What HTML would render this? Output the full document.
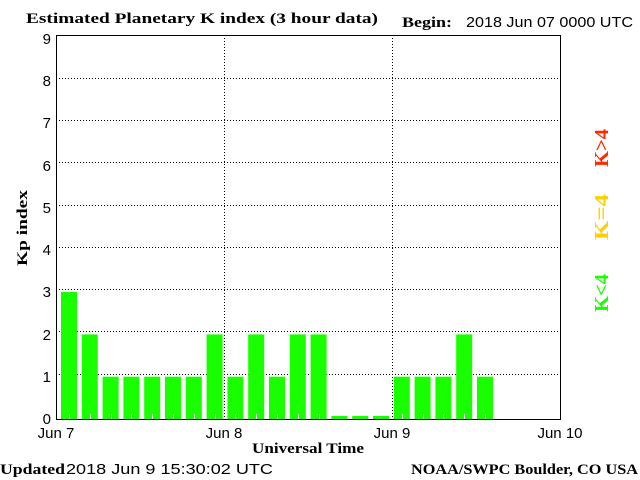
<!DOCTYPE html>
<html><head><style>body{margin:0;background:#fff}svg{display:block}</style></head><body>
<svg width="640" height="480" xmlns="http://www.w3.org/2000/svg">
<rect width="640" height="480" fill="#fff"/>
<g font-family="Liberation Serif, serif" font-weight="bold" font-size="15" fill="#000">
<text x="26" y="23" textLength="352" lengthAdjust="spacingAndGlyphs">Estimated Planetary K index (3 hour data)</text>
<text x="402" y="27" textLength="50" lengthAdjust="spacingAndGlyphs">Begin:</text>
<text x="0" y="474" textLength="65" lengthAdjust="spacingAndGlyphs">Updated</text>
<text x="411" y="474" textLength="227" lengthAdjust="spacingAndGlyphs">NOAA/SWPC Boulder, CO USA</text>
<text x="252" y="453" textLength="112" lengthAdjust="spacingAndGlyphs">Universal Time</text>
<text transform="translate(27,228) rotate(-90)" text-anchor="middle" textLength="76" lengthAdjust="spacingAndGlyphs">Kp index</text>
</g>
<g font-family="Liberation Sans, sans-serif" font-size="15" fill="#000">
<text x="466" y="27" textLength="167" lengthAdjust="spacingAndGlyphs">2018 Jun 07 0000 UTC</text>
<text x="66" y="474" textLength="207" lengthAdjust="spacingAndGlyphs">2018 Jun  9 15:30:02 UTC</text>
<text x="56" y="438" text-anchor="middle">Jun 7</text>
<text x="224" y="438" text-anchor="middle">Jun 8</text>
<text x="392" y="438" text-anchor="middle">Jun 9</text>
<text x="560" y="438" text-anchor="middle">Jun 10</text>
<g text-anchor="end">
<text x="51" y="424">0</text><text x="51" y="382">1</text><text x="51" y="340">2</text>
<text x="51" y="297">3</text><text x="51" y="255">4</text><text x="51" y="213">5</text>
<text x="51" y="171">6</text><text x="51" y="128">7</text><text x="51" y="86">8</text><text x="51" y="44">9</text>
</g>
</g>
<g stroke="#000" stroke-width="1" stroke-dasharray="1,2">
<line x1="56" y1="78.5" x2="560" y2="78.5"/><line x1="56" y1="120.5" x2="560" y2="120.5"/>
<line x1="56" y1="162.5" x2="560" y2="162.5"/><line x1="56" y1="205.5" x2="560" y2="205.5"/>
<line x1="56" y1="247.5" x2="560" y2="247.5"/><line x1="56" y1="289.5" x2="560" y2="289.5"/>
<line x1="56" y1="331.5" x2="560" y2="331.5"/><line x1="56" y1="374.5" x2="560" y2="374.5"/>
<line x1="224.5" y1="35" x2="224.5" y2="419"/><line x1="392.5" y1="35" x2="392.5" y2="419"/>
</g>
<g fill="#1aff00">
<rect x="61" y="292" width="16" height="127"/>
<rect x="81.8" y="334.4" width="16" height="84.6"/>
<rect x="102.6" y="376.7" width="16" height="42.3"/>
<rect x="123.4" y="376.7" width="16" height="42.3"/>
<rect x="144.2" y="376.7" width="16" height="42.3"/>
<rect x="165" y="376.7" width="16" height="42.3"/>
<rect x="185.8" y="376.7" width="16" height="42.3"/>
<rect x="206.6" y="334.4" width="16" height="84.6"/>
<rect x="227.4" y="376.7" width="16" height="42.3"/>
<rect x="248.2" y="334.4" width="16" height="84.6"/>
<rect x="269" y="376.7" width="16" height="42.3"/>
<rect x="289.8" y="334.4" width="16" height="84.6"/>
<rect x="310.6" y="334.4" width="16" height="84.6"/>
<rect x="331.4" y="416" width="16" height="3"/>
<rect x="352.2" y="416" width="16" height="3"/>
<rect x="373" y="416" width="16" height="3"/>
<rect x="393.8" y="376.7" width="16" height="42.3"/>
<rect x="414.6" y="376.7" width="16" height="42.3"/>
<rect x="435.4" y="376.7" width="16" height="42.3"/>
<rect x="456.2" y="334.4" width="16" height="84.6"/>
<rect x="477" y="376.7" width="16" height="42.3"/>
</g>
<g fill="#fff">
<rect x="69" y="414" width="1" height="5"/><rect x="90" y="414" width="1" height="5"/>
<rect x="111" y="414" width="1" height="5"/><rect x="131" y="414" width="1" height="5"/>
<rect x="152" y="414" width="1" height="5"/><rect x="173" y="414" width="1" height="5"/>
<rect x="194" y="414" width="1" height="5"/><rect x="215" y="414" width="1" height="5"/>
<rect x="235" y="414" width="1" height="5"/><rect x="256" y="414" width="1" height="5"/>
<rect x="277" y="414" width="1" height="5"/><rect x="298" y="414" width="1" height="5"/>
<rect x="319" y="414" width="1" height="5"/>
<rect x="402" y="414" width="1" height="5"/><rect x="423" y="414" width="1" height="5"/>
<rect x="443" y="414" width="1" height="5"/><rect x="464" y="414" width="1" height="5"/>
<rect x="485" y="414" width="1" height="5"/>
</g>
<rect x="56.5" y="35.5" width="504" height="384" fill="none" stroke="#000"/>
<g font-family="Liberation Serif, serif" font-weight="bold" font-size="20">
<text transform="translate(608,167) rotate(-90)" fill="#ff2a00" textLength="38" lengthAdjust="spacingAndGlyphs">K&gt;4</text>
<text transform="translate(608,240) rotate(-90)" fill="#ffd000" textLength="46" lengthAdjust="spacingAndGlyphs">K=4</text>
<text transform="translate(608,312) rotate(-90)" fill="#1aff00" textLength="38" lengthAdjust="spacingAndGlyphs">K&lt;4</text>
</g>
</svg>
</body></html>
